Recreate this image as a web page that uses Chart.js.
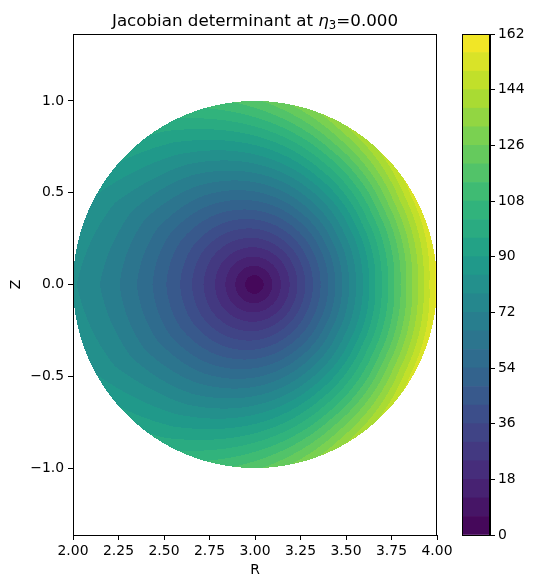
<!DOCTYPE html>
<html>
<head>
<meta charset="utf-8">
<script src="https://cdn.jsdelivr.net/npm/chart.js@4.4.1/dist/chart.umd.min.js"></script>
<style>
  html, body { margin: 0; padding: 0; background: #fff; }
  #wrap { position: relative; width: 533px; height: 588px; }
  #main { position: absolute; left: 0; top: 0; }
  #cbar { position: absolute; left: 447px; top: 0; }
</style>
</head>
<body>
<div id="wrap">
  <canvas id="main" width="533" height="588"></canvas>
  <canvas id="cbar" width="86" height="588"></canvas>
</div>
<script>
// magnetic axis and minor radius of the cross-section
const axisR = 3.0;
const minorRadius = 1.0;

// polar sample grid (rho normalised, theta in degrees from outboard midplane)
const rhoGrid = [0, 0.2, 0.4, 0.6, 0.8, 1.0];
const thetaGrid = [0, 30, 60, 90, 120, 150, 180];

// Jacobian values (theta 0..180, mirrored below midplane)
const jacRho00 = [0, 0, 0, 0, 0, 0, 0];
const jacRho02 = [25.3, 25.1, 24.5, 23.7, 22.9, 22.3, 22.1];
const jacRho04 = [53.7, 52.9, 50.6, 47.4, 44.2, 41.9, 41.1];
const jacRho06 = [85.3, 83.4, 78.2, 71.1, 64.0, 58.8, 56.9];
const jacRho08 = [120.1, 116.7, 107.4, 94.8, 82.2, 72.9, 69.5];
const jacRho10 = [158.0, 152.7, 138.3, 118.5, 98.8, 84.3, 79.0];
const jacRings = [jacRho00, jacRho02, jacRho04, jacRho06, jacRho08, jacRho10];

// contour levels and tick labels
const levels = [0, 6, 12, 18, 24, 30, 36, 42, 48, 54, 60, 66, 72, 78, 84, 90, 96, 102,
                108, 114, 120, 126, 132, 138, 144, 150, 156, 162];
const xTicks = [2.0, 2.25, 2.5, 2.75, 3.0, 3.25, 3.5, 3.75, 4.0];
const yTicks = [-1.0, -0.5, 0.0, 0.5, 1.0];
const cbTicks = [0, 18, 36, 54, 72, 90, 108, 126, 144, 162];

// viridis stops
const viridisStops = ['#440154', '#482878', '#3e4989', '#31688e', '#26828e',
                      '#1f9e89', '#35b779', '#6ece58', '#b5de2b', '#fde725'];

function hexRgb(h) {
  return [parseInt(h.slice(1, 3), 16), parseInt(h.slice(3, 5), 16), parseInt(h.slice(5, 7), 16)];
}
function viridis(t) {
  const n = viridisStops.length - 1;
  const p = Math.min(Math.max(t, 0), 1) * n;
  const i = Math.min(Math.floor(p), n - 1);
  const f = p - i;
  const a = hexRgb(viridisStops[i]), b = hexRgb(viridisStops[i + 1]);
  return [0, 1, 2].map(k => Math.round(a[k] + (b[k] - a[k]) * f));
}
// one colour per filled band, taken at band midpoint
const bandColors = [];
for (let i = 0; i < levels.length - 1; i++) {
  const mid = (levels[i] + levels[i + 1]) / 2;
  bandColors.push(viridis((mid - levels[0]) / (levels[levels.length - 1] - levels[0])));
}
const rgbStr = c => `rgb(${c[0]},${c[1]},${c[2]})`;

function findCell(grid, v) {
  let i = 0;
  while (i < grid.length - 2 && v > grid[i + 1]) i++;
  const f = (v - grid[i]) / (grid[i + 1] - grid[i]);
  return [i, Math.min(Math.max(f, 0), 1)];
}
function sampleJacobian(rho, theta) {
  const [ri, rf] = findCell(rhoGrid, rho);
  const [ti, tf] = findCell(thetaGrid, theta);
  const a = jacRings[ri], b = jacRings[ri + 1];
  const lo = a[ti] + (a[ti + 1] - a[ti]) * tf;
  const hi = b[ti] + (b[ti + 1] - b[ti]) * tf;
  return lo + (hi - lo) * rf;
}
function bandIndex(v) {
  for (let k = 0; k < levels.length - 1; k++) {
    if (v < levels[k + 1]) return k;
  }
  return levels.length - 2;
}

const FONT = 'DejaVu Sans';
const tickFont = { family: FONT, size: 13.9 };

// filled contour drawn through the chart's own scales
const contourPlugin = {
  id: 'contourFill',
  beforeDatasetsDraw(chart) {
    const { ctx, chartArea: a, scales: { x, y } } = chart;
    const w = Math.round(a.right - a.left), h = Math.round(a.bottom - a.top);
    const off = document.createElement('canvas');
    off.width = w; off.height = h;
    const octx = off.getContext('2d');
    const img = octx.createImageData(w, h);
    for (let j = 0; j < h; j++) {
      const Z = y.getValueForPixel(a.top + j + 0.5);
      for (let i = 0; i < w; i++) {
        const R = x.getValueForPixel(a.left + i + 0.5);
        const dR = R - axisR;
        const rho = Math.hypot(dR, Z) / minorRadius;
        if (rho > 1) continue;
        const theta = Math.atan2(Math.abs(Z), dR) * 180 / Math.PI;
        const c = bandColors[bandIndex(sampleJacobian(rho, theta))];
        const p = (j * w + i) * 4;
        img.data[p] = c[0]; img.data[p + 1] = c[1]; img.data[p + 2] = c[2]; img.data[p + 3] = 255;
      }
    }
    octx.putImageData(img, 0, 0);
    ctx.drawImage(off, a.left, a.top);
  },
  afterDraw(chart) {
    const { ctx, chartArea: a } = chart;
    ctx.save();
    ctx.strokeStyle = '#000';
    ctx.lineWidth = 1;
    ctx.strokeRect(a.left + 0.5, a.top + 0.5, a.right - a.left - 1, a.bottom - a.top);
    ctx.fillStyle = '#000';
    // title with math eta_3
    const cx = (a.left + a.right) / 2;
    const base = 26;
    const parts = [
      { t: 'Jacobian determinant at ', f: `16.7px "${FONT}"`, dy: 0 },
      { t: 'η', f: `italic 16.7px "${FONT}"`, dy: 0 },
      { t: '3', f: `11.7px "${FONT}"`, dy: 3 },
      { t: '=0.000', f: `16.7px "${FONT}"`, dy: 0 }
    ];
    let total = 0;
    parts.forEach(p => { ctx.font = p.f; p.w = ctx.measureText(p.t).width; total += p.w; });
    let px = cx - total / 2;
    ctx.textBaseline = 'alphabetic';
    ctx.textAlign = 'left';
    parts.forEach(p => { ctx.font = p.f; ctx.fillText(p.t, px, base + p.dy); px += p.w; });
    // axis labels
    ctx.font = `13.9px "${FONT}"`;
    ctx.textAlign = 'center';
    ctx.textBaseline = 'middle';
    ctx.fillText('R', cx, 570);
    ctx.translate(16, (a.top + a.bottom) / 2);
    ctx.rotate(-Math.PI / 2);
    ctx.fillText('Z', 0, 0);
    ctx.restore();
  }
};

const axisGrid = { drawOnChartArea: false, drawTicks: true, tickLength: 5, tickColor: '#000', tickWidth: 1 };
const axisBorder = { display: true, color: '#000', width: 1 };

new Chart(document.getElementById('main'), {
  type: 'scatter',
  data: { datasets: [] },
  options: {
    responsive: false,
    animation: false,
    layout: { padding: { top: 34, right: 96, left: 0, bottom: 0 } },
    plugins: { legend: { display: false }, tooltip: { enabled: false }, title: { display: false } },
    scales: {
      x: {
        type: 'linear', min: 2, max: 4,
        grid: axisGrid, border: axisBorder,
        afterBuildTicks: s => { s.ticks = xTicks.map(v => ({ value: v })); },
        afterFit: s => { s.height = 53; },
        ticks: { color: '#000', font: tickFont, padding: 3, maxRotation: 0,
                 callback: v => v.toFixed(2) }
      },
      y: {
        type: 'linear', min: -1.365, max: 1.365,
        grid: axisGrid, border: axisBorder,
        afterBuildTicks: s => { s.ticks = yTicks.map(v => ({ value: v })); },
        afterFit: s => { s.width = 73; },
        ticks: { color: '#000', font: tickFont, padding: 4,
                 callback: v => (v < 0 ? '\u2212' : '') + Math.abs(v).toFixed(1) }
      }
    }
  },
  plugins: [contourPlugin]
});

// colour bar: one stacked bar per band
const cbOutline = {
  id: 'cbOutline',
  afterDraw(chart) {
    const { ctx, chartArea: a } = chart;
    ctx.save();
    ctx.strokeStyle = '#000';
    ctx.lineWidth = 1;
    ctx.strokeRect(a.left + 0.5, a.top + 0.5, a.right - a.left - 1, a.bottom - a.top);
    ctx.restore();
  }
};

new Chart(document.getElementById('cbar'), {
  type: 'bar',
  data: {
    labels: [''],
    datasets: bandColors.map((c, i) => ({
      data: [levels[i + 1] - levels[i]],
      backgroundColor: rgbStr(c),
      borderWidth: 0,
      barPercentage: 1.0,
      categoryPercentage: 1.0,
      stack: 'cb'
    }))
  },
  options: {
    responsive: false,
    animation: false,
    layout: { padding: { top: 34, left: 15, right: 0, bottom: 53 } },
    plugins: { legend: { display: false }, tooltip: { enabled: false } },
    scales: {
      x: { display: false, stacked: true },
      y: {
        position: 'right', stacked: true, min: levels[0], max: levels[levels.length - 1],
        grid: axisGrid, border: axisBorder,
        afterBuildTicks: s => { s.ticks = cbTicks.map(v => ({ value: v })); },
        afterFit: s => { s.width = 43; },
        ticks: { color: '#000', font: tickFont, padding: 3, callback: v => String(v) }
      }
    }
  },
  plugins: [cbOutline]
});
</script>
</body>
</html>
